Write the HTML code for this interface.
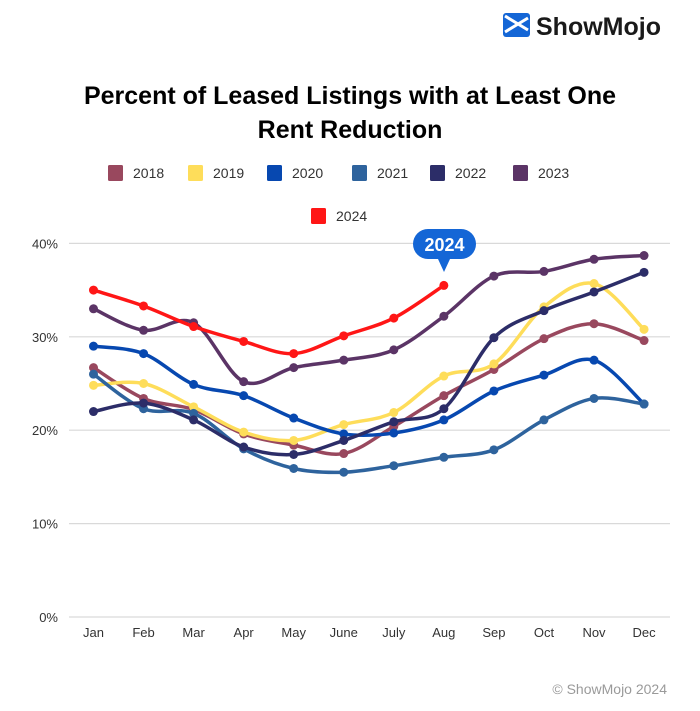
<!DOCTYPE html>
<html><head><meta charset="utf-8"><style>
body{margin:0;background:#fff;font-family:"Liberation Sans",sans-serif}
#wrap{position:relative;width:700px;height:706px}
</style></head><body>
<div id="wrap">
<svg id="svg" width="700" height="706" xmlns="http://www.w3.org/2000/svg">
  <g>
    <rect x="503" y="13" width="27" height="24" rx="3" fill="#1466d6"/>
    <path d="M505 16 L528 30 M528 18 L505 32" stroke="#fff" stroke-width="3"/>
    <text x="536" y="35" font-size="25" font-weight="bold" fill="#1a1a1a">ShowMojo</text>
  </g>
  <text x="350" y="104" text-anchor="middle" font-size="25" font-weight="bold" fill="#000">Percent of Leased Listings with at Least One</text>
  <text x="350" y="138" text-anchor="middle" font-size="25" font-weight="bold" fill="#000">Rent Reduction</text>
  <g id="legend"></g>
  <g id="grid"></g>
  <g id="series"></g>
  <g>
    <path d="M428 229 H461 A15 15 0 0 1 461 259 H450 L444 272 L438 259 H428 A15 15 0 0 1 428 229 Z" fill="#1466d6"/>
    <text x="444.5" y="251" text-anchor="middle" font-size="18" font-weight="bold" fill="#fff">2024</text>
  </g>
  <text x="667" y="694" text-anchor="end" font-size="14" fill="#9a9a9a">© ShowMojo 2024</text>
</svg>
</div>
<script>
const months=["Jan","Feb","Mar","Apr","May","June","July","Aug","Sep","Oct","Nov","Dec"];
const yTicks=[0,10,20,30,40];
const years=["2018","2019","2020","2021","2022","2023","2024"];
const colors=["#99485e","#fedd5a","#0748b0","#2e639d","#2c2d68","#5b3466","#ff1616"];
const v2018=[26.7,23.4,22.2,19.6,18.4,17.5,20.4,23.7,26.5,29.8,31.4,29.6];
const v2019=[24.8,25.0,22.5,19.8,18.9,20.6,21.9,25.8,27.1,33.2,35.7,30.8];
const v2020=[29.0,28.2,24.9,23.7,21.3,19.6,19.7,21.1,24.2,25.9,27.5,22.8];
const v2021=[26.0,22.3,21.8,18.0,15.9,15.5,16.2,17.1,17.9,21.1,23.4,22.8];
const v2022=[22.0,22.9,21.1,18.2,17.4,18.9,20.9,22.3,29.9,32.8,34.8,36.9];
const v2023=[33.0,30.7,31.5,25.2,26.7,27.5,28.6,32.2,36.5,37.0,38.3,38.7];
const v2024=[35.0,33.3,31.1,29.5,28.2,30.1,32.0,35.5];
const allSeries=[v2018,v2019,v2020,v2021,v2022,v2023,v2024];
const NS="http://www.w3.org/2000/svg";
const xS=i=>93.5+i*50.05;
const yS=v=>617-v*9.34;
function mk(t,a,p){const e=document.createElementNS(NS,t);for(const k in a)e.setAttribute(k,a[k]);p.appendChild(e);return e;}
const grid=document.getElementById('grid');
yTicks.forEach(t=>{
  const l=mk('line',{x1:69,x2:670,y1:yS(t),y2:yS(t),stroke:'#d9d9d9','stroke-width':1.2},grid);
  
  
  const tx=mk('text',{x:58,y:yS(t)+5,'text-anchor':'end','font-size':13,fill:'#333'},grid);
  tx.textContent=t+'%';
  
  
});
months.forEach((m,i)=>{
  const tx=mk('text',{x:xS(i),y:637,'text-anchor':'middle','font-size':13,fill:'#333'},grid);
  tx.textContent=m;
  
  
});
const lg=document.getElementById('legend');
const lgX=[108,188,267,352,430,513,311];
years.forEach((y,i)=>{
  const row=i<6?165:208;
  const g=mk('g',{},lg);
  
  
  mk('rect',{x:lgX[i],y:row,width:15,height:16,rx:1.5,fill:colors[i]},g);
  const t=mk('text',{x:lgX[i]+25,y:row+13,'font-size':14,fill:'#333'},g);
  t.textContent=y;
});
function path(pts){
  let d='M'+pts[0][0]+' '+pts[0][1];
  for(let i=0;i<pts.length-1;i++){
    const p0=pts[i-1]||pts[i],p1=pts[i],p2=pts[i+1],p3=pts[i+2]||p2;
    const c1=[p1[0]+(p2[0]-p0[0])/6,p1[1]+(p2[1]-p0[1])/6];
    const c2=[p2[0]-(p3[0]-p1[0])/6,p2[1]-(p3[1]-p1[1])/6];
    d+=` C${c1[0]} ${c1[1]} ${c2[0]} ${c2[1]} ${p2[0]} ${p2[1]}`;
  }
  return d;
}
const sg=document.getElementById('series');
allSeries.forEach((vals,si)=>{
  const g=mk('g',{},sg);
  
  
  const pts=vals.map((v,i)=>[xS(i),yS(v)]);
  mk('path',{d:path(pts),fill:'none',stroke:colors[si],'stroke-width':3.5,'stroke-linejoin':'round'},g);
  pts.forEach((p,i)=>{
    const c=mk('circle',{cx:p[0],cy:p[1],r:4.5,fill:colors[si]},g);
    
    
  });
});
</script>
</body></html>
